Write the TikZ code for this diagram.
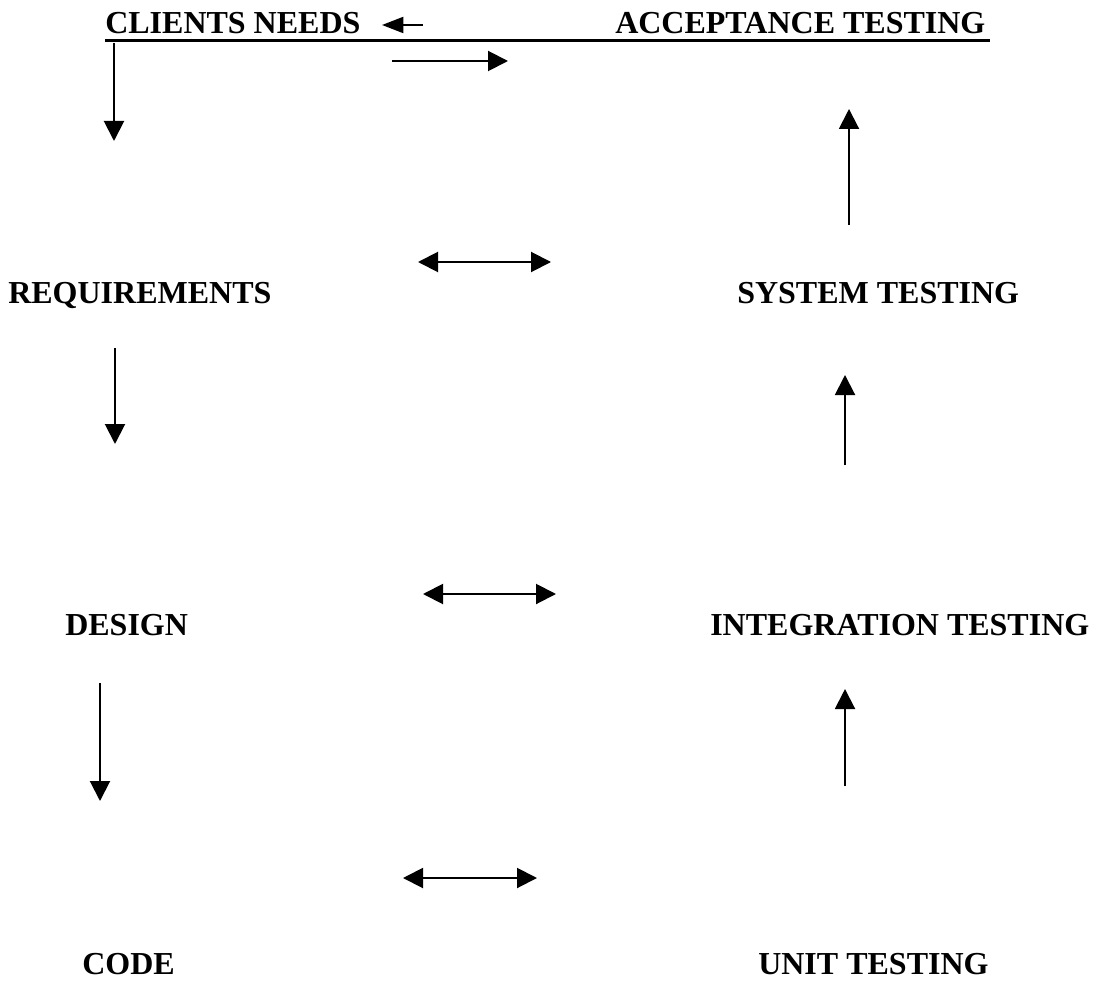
\documentclass[tikz,border=0pt]{standalone}
\usepackage{fontspec}
\setmainfont{Liberation Serif}
\usetikzlibrary{arrows.meta}
\begin{document}
\begin{tikzpicture}[x=0.75pt,y=-0.75pt,
  lbl/.style={anchor=base west,inner sep=0pt,font=\fontsize{24pt}{28pt}\selectfont\bfseries},
  arr/.style={line width=1.5pt,-{Triangle[length=15pt,width=15pt]}},
  darr/.style={line width=1.5pt,{Triangle[length=15pt,width=15pt]}-{Triangle[length=15pt,width=15pt]}}]
\useasboundingbox (0,0) rectangle (1094,980);
% labels
\node[lbl] (cn) at (105,34) {CLIENTS NEEDS};
\node[lbl] (at) at (615,34) {ACCEPTANCE TESTING};
\node[lbl] (rq) at (8,303) {REQUIREMENTS};
\node[lbl] (st) at (737,303) {SYSTEM TESTING};
\node[lbl] (ds) at (65,635) {DESIGN};
\node[lbl] (it) at (710,635) {INTEGRATION TESTING};
\node[lbl] (cd) at (82,974) {CODE};
\node[lbl] (ut) at (758,974) {UNIT TESTING};
% underline
\coordinate (u1) at (105,41);
\coordinate (u2) at (990,41);
\draw[line width=2.25pt] (u1) -- (u2);
% top small arrows
\coordinate (a1s) at (423,25); \coordinate (a1e) at (382,25);
\draw[line width=1.5pt,-{Triangle[length=16pt,width=12pt]}] (a1s) -- (a1e);
\coordinate (a2s) at (392,61); \coordinate (a2e) at (508,61);
\draw[arr] (a2s) -- (a2e);
% left down arrows
\coordinate (d1s) at (114,43); \coordinate (d1e) at (114,141);
\draw[arr] (d1s) -- (d1e);
\coordinate (d2s) at (115,348); \coordinate (d2e) at (115,444);
\draw[arr] (d2s) -- (d2e);
\coordinate (d3s) at (100,683); \coordinate (d3e) at (100,801);
\draw[arr] (d3s) -- (d3e);
% right up arrows
\coordinate (u1s) at (849,225); \coordinate (u1e) at (849,109);
\draw[arr] (u1s) -- (u1e);
\coordinate (u2s) at (845,465); \coordinate (u2e) at (845,375);
\draw[arr] (u2s) -- (u2e);
\coordinate (u3s) at (845,786); \coordinate (u3e) at (845,689);
\draw[arr] (u3s) -- (u3e);
% double arrows
\coordinate (h1s) at (418,262); \coordinate (h1e) at (551,262);
\draw[darr] (h1s) -- (h1e);
\coordinate (h2s) at (423,594); \coordinate (h2e) at (556,594);
\draw[darr] (h2s) -- (h2e);
\coordinate (h3s) at (403,878); \coordinate (h3e) at (537,878);
\draw[darr] (h3s) -- (h3e);
\end{tikzpicture}
\end{document}
